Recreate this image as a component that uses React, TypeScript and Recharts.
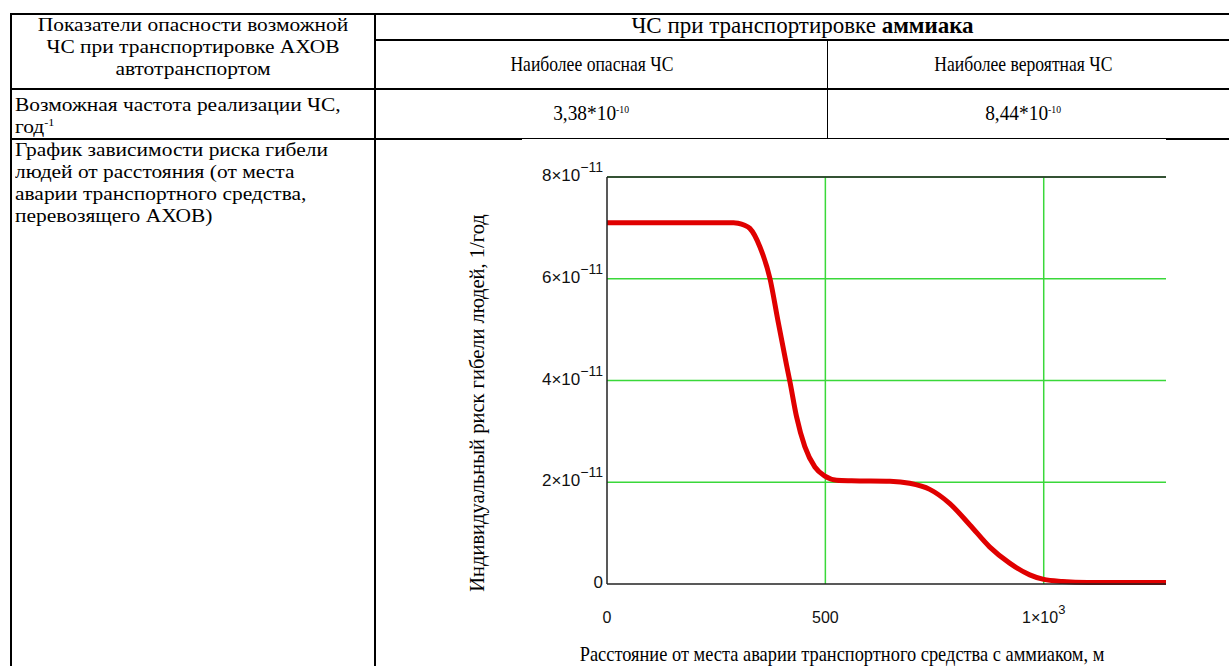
import React from "react";
import { LineChart, Line, XAxis, YAxis, CartesianGrid, ReferenceLine, Label } from "recharts";

// distance from accident site, m
const distance = [0, 290, 300, 315, 327, 350, 373, 392, 411, 419, 434, 453, 476, 499, 526, 560, 648, 693, 739, 785, 831, 876, 922, 968, 1000, 1043, 1100, 1280];
// individual risk, 1/year
const risk = [7.1e-11, 7.1e-11, 7.09e-11, 7.05e-11, 6.99e-11, 6.63e-11, 6.01e-11, 5.15e-11, 4.31e-11, 3.97e-11, 3.29e-11, 2.7e-11, 2.3e-11, 2.12e-11, 2.04e-11, 2.03e-11, 2.02e-11, 1.98e-11, 1.86e-11, 1.58e-11, 1.16e-11, 0.73e-11, 0.41e-11, 0.18e-11, 0.09e-11, 0.05e-11, 0.03e-11, 0.03e-11];

const xTicks = [0, 500, 1000];
const xTickBase = ["0", "500", "1×10"];
const xTickExp = ["", "", "3"];
const yTicks = [0, 2e-11, 4e-11, 6e-11, 8e-11];
const yTickBase = ["0", "2×10", "4×10", "6×10", "8×10"];
const yTickExp = ["", "−11", "−11", "−11", "−11"];

const data = distance.map((d, i) => ({ d, r: risk[i] }));

const serifFont = "'Liberation Serif'";
const sansFont = "'Liberation Sans'";

const XTick = (props: any) => {
  const { x, y, payload } = props;
  const i = xTicks.indexOf(payload.value);
  return (
    <text x={x} y={y + 31} textAnchor="middle" fontFamily={sansFont} fontSize={16} fill="#111">
      <tspan>{xTickBase[i]}</tspan>
      {xTickExp[i] ? <tspan dy={-9} fontSize={13}>{xTickExp[i]}</tspan> : null}
    </text>
  );
};

const YTick = (props: any) => {
  const { x, y, payload } = props;
  const i = yTicks.indexOf(payload.value);
  return (
    <text x={x + 4} y={y + 4} textAnchor="end" fontFamily={sansFont} fontSize={17} fill="#111">
      <tspan>{yTickBase[i]}</tspan>
      {yTickExp[i] ? <tspan dy={-9} fontSize={14}>{yTickExp[i]}</tspan> : null}
    </text>
  );
};

const hLine = (x1: number, x2: number, y: number, w = 2): React.CSSProperties => ({
  position: "absolute", left: x1, top: y, width: x2 - x1, height: w, background: "#000",
});
const vLine = (x: number, y1: number, y2: number, w = 2): React.CSSProperties => ({
  position: "absolute", left: x, top: y1, width: w, height: y2 - y1, background: "#000",
});

const cellText: React.CSSProperties = {
  position: "absolute", fontFamily: serifFont, fontSize: 21.5, lineHeight: "22px", color: "#000", whiteSpace: "nowrap",
};
// multi-line cells: slightly smaller glyphs stretched horizontally, so lines keep the reference's tight spacing
const multiText = (origin: string): React.CSSProperties => ({
  ...cellText, fontSize: 19.5, transform: "scaleX(1.1)", transformOrigin: origin,
});
const squeeze = (k: number): React.CSSProperties => ({ display: "inline-block", transform: `scaleX(${k})`, transformOrigin: "50% 50%" });
const supStyle: React.CSSProperties = { fontSize: 11, verticalAlign: "7px", lineHeight: 0 };

export default function App() {
  return (
    <div style={{ position: "absolute", left: 0, top: 0, width: 1229, height: 666, background: "#fff", overflow: "hidden" }}>
      {/* table borders */}
      <div style={hLine(11, 1229, 13)} />
      <div style={hLine(375, 1229, 39, 2)} />
      <div style={hLine(11, 1229, 88)} />
      <div style={hLine(11, 522, 138)} />
      <div style={hLine(522, 1166, 138, 1)} />
      <div style={hLine(1166, 1229, 138)} />
      <div style={vLine(10, 13, 666)} />
      <div style={vLine(374, 13, 666)} />
      <div style={vLine(827, 39, 138, 1)} />

      {/* header left */}
      <div style={{ ...multiText("50% 0"), left: 12, top: 14, width: 362, textAlign: "center" }}>
        Показатели опасности возможной<br />ЧС при транспортировке АХОВ<br />автотранспортом
      </div>
      {/* header right */}
      <div style={{ ...cellText, fontSize: 23, left: 376, top: 15, width: 853, textAlign: "center" }}>
        ЧС при транспортировке <b>аммиака</b>
      </div>
      <div style={{ ...cellText, fontSize: 22, left: 366, top: 53, width: 451, textAlign: "center" }}>
        <span style={squeeze(0.8)}>Наиболее опасная ЧС</span>
      </div>
      <div style={{ ...cellText, fontSize: 22, left: 823, top: 53, width: 401, textAlign: "center" }}>
        <span style={squeeze(0.8)}>Наиболее вероятная ЧС</span>
      </div>

      {/* row: frequency */}
      <div style={{ ...multiText("0 0"), left: 15, top: 94, width: 320 }}>
        Возможная частота реализации ЧС,<br />год<sup style={supStyle}>-1</sup>
      </div>
      <div style={{ ...cellText, fontSize: 22, left: 366, top: 102, width: 451, textAlign: "center" }}>
        <span style={squeeze(0.88)}>3,38*10<sup style={supStyle}>-10</sup></span>
      </div>
      <div style={{ ...cellText, fontSize: 22, left: 823, top: 102, width: 401, textAlign: "center" }}>
        <span style={squeeze(0.88)}>8,44*10<sup style={supStyle}>-10</sup></span>
      </div>

      {/* row: graph */}
      <div style={{ ...multiText("0 0"), left: 15, top: 139, width: 320 }}>
        График зависимости риска гибели<br />людей от расстояния (от места<br />аварии транспортного средства,<br />перевозящего АХОВ)
      </div>

      <div style={{ position: "absolute", left: 400, top: 140 }}>
        <LineChart width={829} height={526} data={data} margin={{ top: 37, right: 63, bottom: 0, left: 0 }}>
          <CartesianGrid stroke="#3ad83a" strokeWidth={1.5} horizontal vertical
            horizontalValues={[2e-11, 4e-11, 6e-11, 8e-11]} verticalValues={[500, 1000]} />
          <ReferenceLine y={8e-11} stroke="#222" strokeWidth={1.5} ifOverflow="extendDomain" />
          <XAxis dataKey="d" type="number" domain={[0, 1280]} ticks={xTicks} height={82}
            axisLine={{ stroke: "#222", strokeWidth: 1.5 }} tickLine={false} tick={<XTick />} interval={0}>
            <Label content={() => (
              <text transform="translate(442, 521) scale(0.92, 1)" x={0} y={0} textAnchor="middle"
                fontFamily={serifFont} fontSize={20} fill="#000">
                Расстояние от места аварии транспортного средства с аммиаком, м
              </text>
            )} />
          </XAxis>
          <YAxis type="number" domain={[0, 8e-11]} ticks={yTicks} width={207}
            axisLine={{ stroke: "#222", strokeWidth: 1.5 }} tickLine={false} tick={<YTick />} interval={0}>
            <Label content={() => (
              <text x={84} y={263} textAnchor="middle" fontFamily={serifFont} fontSize={20.5} fill="#000"
                transform="rotate(-90, 84, 263)">
                Индивидуальный риск гибели людей, 1/год
              </text>
            )} />
          </YAxis>
          <Line type="monotone" dataKey="r" stroke="#e00000" strokeWidth={5} dot={false} isAnimationActive={false} />
        </LineChart>
      </div>
    </div>
  );
}
